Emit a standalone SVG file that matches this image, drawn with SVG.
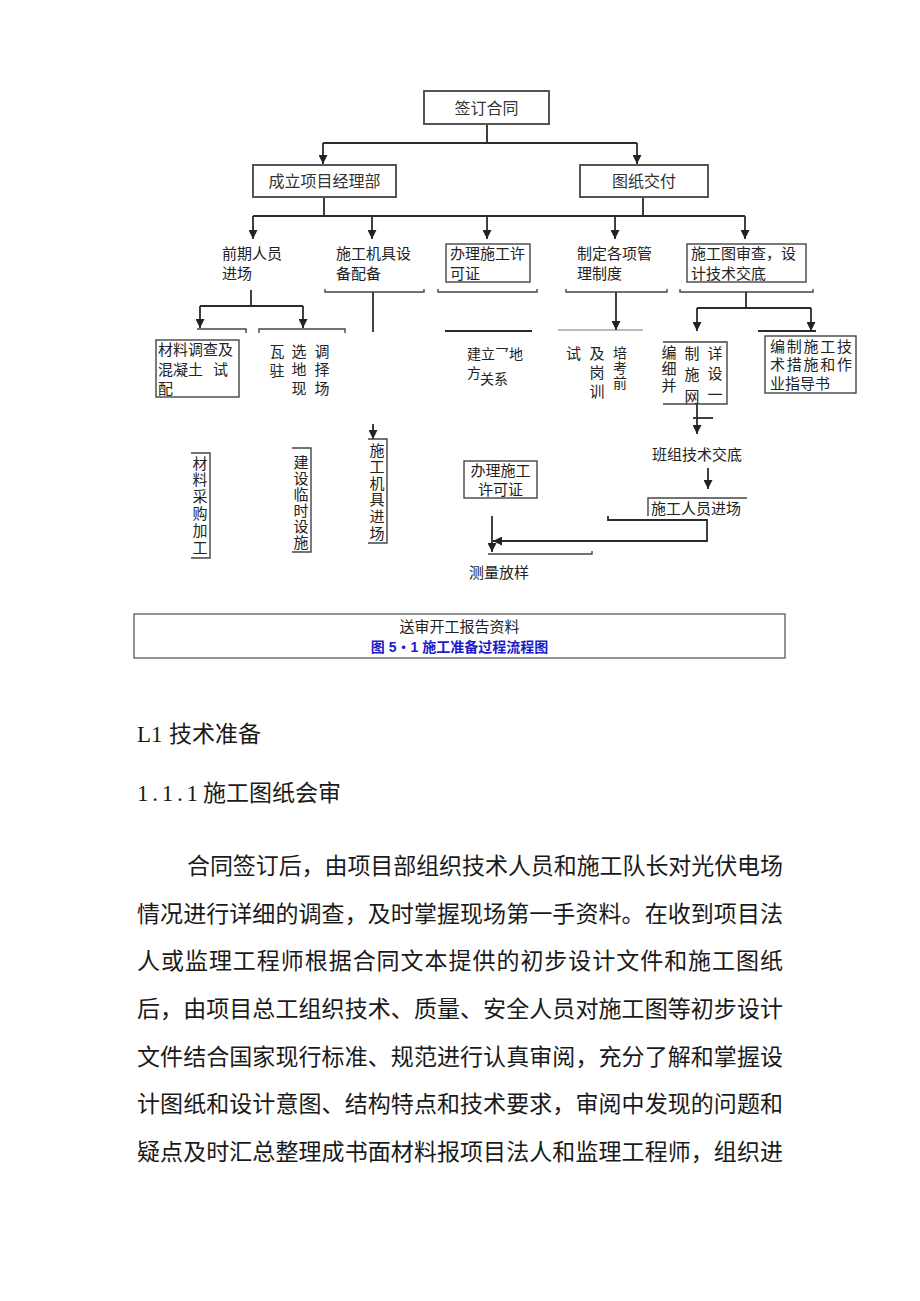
<svg xmlns="http://www.w3.org/2000/svg" width="920" height="1301" viewBox="0 0 920 1301">
<style>
.ln{stroke:#2b2b2b;stroke-width:1.8;fill:none}
.lt{stroke:#777;stroke-width:1.2;fill:none}
.bx{fill:#fff;stroke:#444;stroke-width:1.4}
.bt{fill:#fff;stroke:#555;stroke-width:2}
.sh{fill:none;stroke:#444;stroke-width:1.4}
.t{font-family:"Noto Sans CJK SC","Noto Sans CJK JP",sans-serif;font-size:15px;fill:#222}
.t16{font-family:"Noto Sans CJK SC","Noto Sans CJK JP",sans-serif;font-size:16px;fill:#333}
.t14{font-family:"Noto Sans CJK SC","Noto Sans CJK JP",sans-serif;font-size:14px;fill:#222}
.v{writing-mode:vertical-rl}
.c{text-anchor:middle}
.cap{font-family:"Liberation Sans","Noto Sans CJK SC",sans-serif;font-size:14px;font-weight:bold;fill:#1c1cc8}
.body{font-family:"Liberation Serif","Noto Sans CJK SC",serif;font-size:23px;fill:#1a1a1a}
</style>
<defs>
<marker id="ah" viewBox="0 0 10 10" refX="10" refY="5" markerWidth="9" markerHeight="9" markerUnits="userSpaceOnUse" orient="auto"><path d="M0,0 L10,5 L0,10 z" fill="#222"/></marker>
</defs>
<rect width="920" height="1301" fill="#fff"/>

<g id="connectors">
<path class="ln" d="M487,124 V143 M323,143 H637"/>
<path class="ln" d="M323,143 V164" marker-end="url(#ah)"/>
<path class="ln" d="M637,143 V164" marker-end="url(#ah)"/>
<path class="ln" d="M324,197 V216 M643,197 V216 M253,216 H745"/>
<path class="ln" d="M253,216 V239" marker-end="url(#ah)"/>
<path class="ln" d="M372,216 V239" marker-end="url(#ah)"/>
<path class="ln" d="M487,216 V239" marker-end="url(#ah)"/>
<path class="ln" d="M615,216 V239" marker-end="url(#ah)"/>
<path class="ln" d="M745,216 V239" marker-end="url(#ah)"/>
<path class="sh" d="M325,289 V292 H424 V289 M438,289 V292 H537 V289 M566,289 V292 H667 V289 M680,289 V292 H813 V289"/>
<path class="ln" d="M251,290 V306 M200,306 H303"/>
<path class="ln" d="M200,306 V328" marker-end="url(#ah)"/>
<path class="ln" d="M303,306 V328" marker-end="url(#ah)"/>
<path class="sh" d="M197,329 H246 V333 M259,333 V329 H345 V333"/>
<path class="ln" d="M373,292 V332"/>
<path class="ln" d="M445,331 H532"/>
<path class="ln" d="M616,292 V330" marker-end="url(#ah)"/>
<path class="lt" d="M558,330 H643"/>
<path class="ln" d="M746,292 V308 M697,308 H811"/>
<path class="ln" d="M697,308 V331" marker-end="url(#ah)"/>
<path class="ln" d="M811,308 V331" marker-end="url(#ah)"/>
<path class="ln" d="M758,331 H816"/>
<path class="ln" d="M373,424 V439" marker-end="url(#ah)"/>
<path class="ln" d="M697,404 V434" marker-end="url(#ah)"/>
<path class="ln" d="M693,418 H713"/>
<path class="ln" d="M708,468 V489" marker-end="url(#ah)"/>
<path class="ln" d="M608,516 V520 H707 V541 H493" marker-end="url(#ah)"/>
<path class="ln" d="M492,516 V552" marker-end="url(#ah)"/>
<path class="sh" d="M488,554 H592 V551"/>
</g>

<g id="n-qiandinghetong"><rect class="bt" x="424" y="91" width="125" height="33"/><text class="t16 c" x="486.5" y="113.5">签订合同</text></g>
<g id="n-chengli"><rect class="bt" x="253" y="165" width="143" height="32"/><text class="t16 c" x="324.5" y="187">成立项目经理部</text></g>
<g id="n-tuzhi"><rect class="bt" x="580" y="165" width="128" height="32"/><text class="t16 c" x="644" y="187">图纸交付</text></g>

<g id="n-qianqi"><text class="t" x="222" y="259">前期人员<tspan x="222" dy="20">进场</tspan></text></g>
<g id="n-jijupeibei"><text class="t" x="336" y="259">施工机具设<tspan x="336" dy="20">备配备</tspan></text></g>
<g id="n-banli1"><rect class="bx" x="446" y="244" width="84" height="38"/><text class="t" x="450" y="259">办理施工许<tspan x="450" dy="20">可证</tspan></text></g>
<g id="n-zhiding"><text class="t" x="577" y="259">制定各项管<tspan x="577" dy="20">理制度</tspan></text></g>
<g id="n-shencha"><rect class="bx" x="687" y="244" width="119" height="38"/><text class="t" x="691" y="259">施工图审查，设<tspan x="691" dy="20">计技术交底</tspan></text></g>

<g id="n-cailiaodiaocha"><rect class="bx" x="156" y="340" width="83" height="57"/><text class="t" x="158" y="355" font-size="14.5">材料调查及<tspan x="158" dy="19.5">混凝土</tspan><tspan x="213">试</tspan><tspan x="158" dy="19.5">配</tspan></text></g>
<g id="n-xuanzhi"><text class="t v" x="277" y="343.5" letter-spacing="4">瓦驻</text><text class="t v" x="299" y="343.5" letter-spacing="3.5">选地现</text><text class="t v" x="322" y="343.5" letter-spacing="3.5">调择场</text></g>
<g id="n-jianli"><text class="t14" x="467" y="359" font-size="13.5">建立乛地<tspan x="467" dy="18.5">方</tspan><tspan x="480" dy="6">关系</tspan></text></g>
<g id="n-peixun"><text class="t" x="566" y="358.5">试</text><text class="t v" x="597" y="345.5" letter-spacing="4">及岗训</text><text class="t14 v" x="620" y="346" letter-spacing="1">培考前</text></g>
<g id="n-bianzhiwang"><path class="sh" d="M663,342 H727 V404 H663"/><text class="t v" x="669" y="344.5" letter-spacing="1.5">编细并</text><text class="t v" x="692" y="345.5" letter-spacing="6.5">制施网</text><text class="t v" x="715" y="345.5" letter-spacing="5.5">详设一</text></g>
<g id="n-zuoyezhidao"><rect class="bx" x="765" y="336" width="91" height="57"/><text class="t" x="770" y="351.5" font-size="13.5"><tspan textLength="82" lengthAdjust="spacing">编制施工技</tspan><tspan x="770" dy="18.5" textLength="82" lengthAdjust="spacing">术措施和作</tspan><tspan x="770" dy="18.5" textLength="60" lengthAdjust="spacing">业指导书</tspan></text></g>

<g id="n-caigou"><path class="sh" d="M191,453 H210 V558 H191"/><text class="t v" x="200" y="455.5" letter-spacing="1.8">材料采购加工</text></g>
<g id="n-linshi"><path class="sh" d="M292,448 H311 V552 H292"/><text class="t v" x="301" y="454.5" letter-spacing="1">建设临时设施</text></g>
<g id="n-jijujinchang"><path class="sh" d="M368,439 H387 V543 H368"/><text class="t v" x="377" y="442.5" letter-spacing="1.6">施工机具进场</text></g>
<g id="n-banli2"><rect class="bx" x="464" y="461" width="73" height="37"/><text class="t c" x="500.5" y="476" font-size="14">办理施工<tspan x="500.5" dy="19">许可证</tspan></text></g>
<g id="n-banzu"><text class="t" x="652" y="459.5">班组技术交底</text></g>
<g id="n-renyuan"><path class="sh" d="M648,516 V498 H747"/><text class="t" x="651" y="513.5">施工人员进场</text></g>
<g id="n-celiang"><text class="t" x="469" y="577.5">测量放样</text></g>

<g id="n-songshen"><rect x="134" y="614" width="651" height="44" fill="#fff" stroke="#666" stroke-width="1.4"/><text class="t c" x="459.5" y="631.5">送审开工报告资料<tspan class="cap" x="459.5" dy="20.5">图 5・1 施工准备过程流程图</tspan></text></g>

<g id="body-text">
<text class="body" x="137" y="741.5">L1<tspan x="169">技术准备</tspan></text>
<text class="body" x="137" y="801" textLength="61" lengthAdjust="spacing">1.1.1</text>
<text class="body" x="203" y="801">施工图纸会审</text>
<text class="body" x="187" y="873.5" textLength="596" lengthAdjust="spacing">合同签订后，由项目部组织技术人员和施工队长对光伏电场</text>
<text class="body" x="137" y="921.5" textLength="646" lengthAdjust="spacing">情况进行详细的调查，及时掌握现场第一手资料。在收到项目法</text>
<text class="body" x="137" y="968.5" textLength="646" lengthAdjust="spacing">人或监理工程师根据合同文本提供的初步设计文件和施工图纸</text>
<text class="body" x="137" y="1016.5" textLength="646" lengthAdjust="spacing">后，由项目总工组织技术、质量、安全人员对施工图等初步设计</text>
<text class="body" x="137" y="1064.5" textLength="646" lengthAdjust="spacing">文件结合国家现行标准、规范进行认真审阅，充分了解和掌握设</text>
<text class="body" x="137" y="1111.5" textLength="646" lengthAdjust="spacing">计图纸和设计意图、结构特点和技术要求，审阅中发现的问题和</text>
<text class="body" x="137" y="1159.5" textLength="646" lengthAdjust="spacing">疑点及时汇总整理成书面材料报项目法人和监理工程师，组织进</text>
</g>
</svg>
